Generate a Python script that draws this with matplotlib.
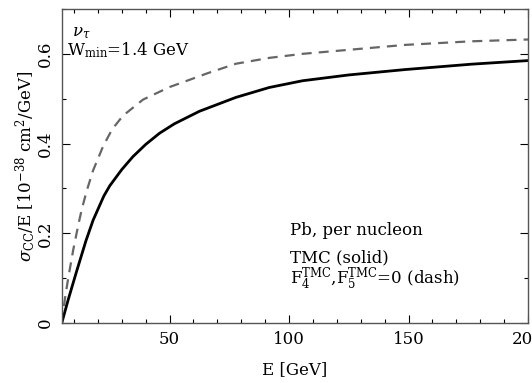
import matplotlib
matplotlib.use("Agg")
import matplotlib.pyplot as plt
from matplotlib.ticker import MultipleLocator

plt.rcParams['font.family'] = ['DejaVu Serif']
plt.rcParams['mathtext.fontset'] = 'dejavuserif'

# Solid: with TMC
E_solid = [4.9, 7.6, 11.1, 15.0, 18.0, 22.5, 25.0, 30.0, 34.7, 40.0, 45.8, 52.0, 62.5,
           77.8, 91.7, 105.6, 125.0, 148.6, 176.4, 200.0]
s_solid = [0.0, 0.052, 0.115, 0.183, 0.229, 0.283, 0.306, 0.342, 0.371, 0.398, 0.423, 0.444, 0.472,
           0.503, 0.525, 0.540, 0.553, 0.565, 0.577, 0.585]

# Dashed: F4^TMC, F5^TMC = 0
E_dash = [4.9, 6.25, 7.6, 9.7, 11.8, 13.2, 15.3, 18.0, 22.2, 26.0, 30.5, 38.9, 50.0, 58.3,
          66.0, 77.8, 91.7, 105.6, 125.0, 148.6, 176.4, 200.0]
s_dash = [0.0, 0.055, 0.10, 0.163, 0.218, 0.252, 0.294, 0.34, 0.394, 0.432, 0.462, 0.498, 0.526, 0.542,
          0.557, 0.578, 0.591, 0.600, 0.609, 0.620, 0.628, 0.632]

xticks = [50, 100, 150, 200]
yticks = [0, 0.2, 0.4, 0.6]
yticklabels = ['0', '0.2', '0.4', '0.6']

fig = plt.figure(figsize=(5.32, 3.83), dpi=100)
ax = fig.add_axes([62/532, 1 - 323/383, (528-62)/532, (323-9)/383])

ax.plot(E_dash, s_dash, color='#666666', lw=1.6, dashes=(4.5, 3.2))
ax.plot(E_solid, s_solid, color='black', lw=2.0)

ax.set_xlim(5, 200)
ax.set_ylim(0, 0.7)
ax.set_xticks(xticks)
ax.set_xticklabels([str(t) for t in xticks])
ax.set_yticks(yticks)
ax.set_yticklabels(yticklabels, rotation=90, va='center')
ax.xaxis.set_minor_locator(MultipleLocator(10))
ax.yaxis.set_minor_locator(MultipleLocator(0.1))
ax.tick_params(which='both', direction='in', top=True, right=True, labelsize=12)
ax.tick_params(which='major', length=6, width=0.8, pad=6)
ax.tick_params(which='minor', length=3, width=0.8)
for sp in ax.spines.values():
    sp.set_linewidth(1.0)
    sp.set_color('#555555')

ax.set_xlabel('E [GeV]', fontsize=12, labelpad=9)
ax.set_ylabel(r'$\sigma_{\rm CC}$/E [10$^{-38}$ cm$^2$/GeV]', fontsize=12, labelpad=-1)

ax.text(0.022, 0.914, r'$\nu_\tau$', transform=ax.transAxes, fontsize=12, fontweight='bold')
ax.text(0.011, 0.853, r'W$_{\rm min}$=1.4 GeV', transform=ax.transAxes, fontsize=12)
ax.text(0.489, 0.28, 'Pb, per nucleon', transform=ax.transAxes, fontsize=12)
ax.text(0.489, 0.194, 'TMC (solid)', transform=ax.transAxes, fontsize=12)
ax.text(0.489, 0.124, r'F$_4^{\rm TMC}$,F$_5^{\rm TMC}$=0 (dash)', transform=ax.transAxes, fontsize=12)

fig.savefig('out.png', dpi=100)
